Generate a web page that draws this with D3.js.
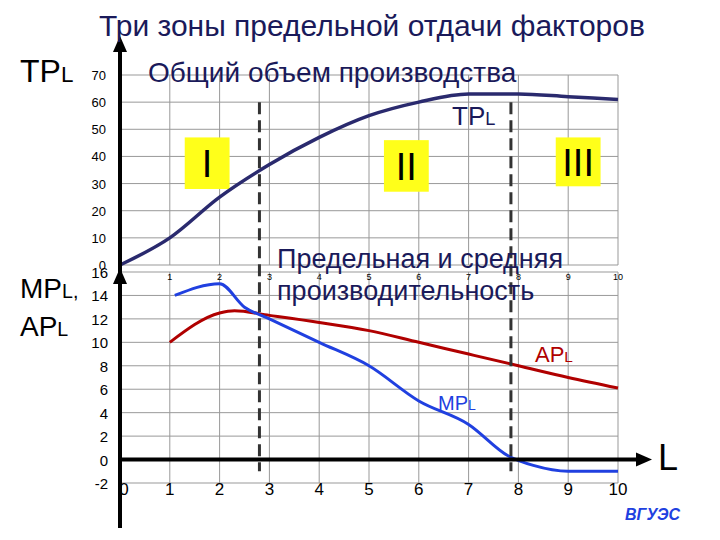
<!DOCTYPE html><html><head><meta charset="utf-8"><script src="https://cdn.jsdelivr.net/npm/d3@7"></script>
<style>body{margin:0;background:#fff}text{font-family:"Liberation Sans",Arial,sans-serif}</style></head><body><svg id="c" width="720" height="540"></svg><script>
const xTicks=[0,1,2,3,4,5,6,7,8,9,10];
const tpY=[0,10,20,30,40,50,60,70];
const mpY=[-2,0,2,4,6,8,10,12,14,16];
const tplX=[0,1,2,3,4,5,6,7,8,9,10], tplV=[0,10,25,37,47,55,60,63,63,62,61];
const aplX=[1,2,2.3,3,4,5,6,7,8,9,10], aplV=[10,12.5,12.7,12.3,11.7,11,10,9,8,7,6.1];
const mplX=[1.1,2,2.5,3,4,5,6,7,7.8,8.3,9,10], mplV=[14,15,13,12,10,8,5,3,0.3,-0.5,-1,-1];
const dashX=[2.8,7.85];
const zones=[{t:"I",x0:1.3,x1:2.2,y0:47,y1:28},{t:"II",x0:5.3,x1:6.2,y0:46,y1:27},{t:"III",x0:8.75,x1:9.65,y0:47,y1:29}];
const svg=d3.select("#c");
const x=d3.scaleLinear([0,10],[120,618]);
const yt=d3.scaleLinear([0,70],[265,75]);
const yb=d3.scaleLinear([-2,16],[483,272]);
const g="#999";
xTicks.slice(1).forEach(t=>{svg.append("line").attr("x1",x(t)).attr("x2",x(t)).attr("y1",yt(70)).attr("y2",yt(0)).attr("stroke",g);
 svg.append("line").attr("x1",x(t)).attr("x2",x(t)).attr("y1",yb(16)).attr("y2",yb(-2)).attr("stroke",g);});
tpY.forEach(t=>svg.append("line").attr("x1",x(0)).attr("x2",x(10)).attr("y1",yt(t)).attr("y2",yt(t)).attr("stroke",g));
mpY.forEach(t=>svg.append("line").attr("x1",x(0)).attr("x2",x(10)).attr("y1",yb(t)).attr("y2",yb(t)).attr("stroke",g));
tpY.forEach(t=>svg.append("text").attr("x",106).attr("y",yt(t)+5).attr("text-anchor","end").attr("font-size",13).text(t));
mpY.forEach(t=>svg.append("text").attr("x",108).attr("y",yb(t)+6).attr("text-anchor","end").attr("font-size",15).text(t));
xTicks.slice(1).forEach(t=>svg.append("text").attr("x",x(t)).attr("y",280).attr("text-anchor","middle").attr("font-size",9).text(t));
xTicks.forEach(t=>svg.append("text").attr("x",x(t)+(t==0?4:0)).attr("y",495).attr("text-anchor","middle").attr("font-size",17).text(t));
zones.forEach(z=>{svg.append("rect").attr("x",x(z.x0)).attr("width",x(z.x1)-x(z.x0)).attr("y",yt(z.y0)).attr("height",yt(z.y1)-yt(z.y0)).attr("fill","#ffff1a");
 svg.append("text").attr("x",(x(z.x0)+x(z.x1))/2).attr("y",(yt(z.y0)+yt(z.y1))/2+14).attr("text-anchor","middle").attr("font-size",38).text(z.t);});
const ln=(xs,vs,ys)=>d3.line().x((d,i)=>x(xs[i])).y(d=>ys(d)).curve(d3.curveMonotoneX)(vs);
svg.append("path").attr("d",ln(tplX,tplV,yt)).attr("fill","none").attr("stroke","#2a2a6e").attr("stroke-width",3.5);
svg.append("path").attr("d",ln(aplX,aplV,yb)).attr("fill","none").attr("stroke","#b00000").attr("stroke-width",3);
svg.append("path").attr("d",ln(mplX,mplV,yb)).attr("fill","none").attr("stroke","#2040e0").attr("stroke-width",3);
dashX.forEach(d=>svg.append("line").attr("x1",x(d)).attr("x2",x(d)).attr("y1",yt(60)).attr("y2",yb(-1)).attr("stroke","#333").attr("stroke-width",3).attr("stroke-dasharray","12,6"));
svg.append("line").attr("x1",120).attr("x2",120).attr("y1",45).attr("y2",528).attr("stroke","#000").attr("stroke-width",4);
svg.append("line").attr("x1",120).attr("x2",645).attr("y1",yb(0)).attr("y2",yb(0)).attr("stroke","#000").attr("stroke-width",4);
svg.append("path").attr("d","M120,36 L113,52 L127,52Z");
svg.append("path").attr("d","M120,268 L113,284 L127,284Z");
svg.append("path").attr("d",`M652,${yb(0)} L636,${yb(0)-7} L636,${yb(0)+7}Z`);
const T=(s,xx,yy,fs,fill,anchor)=>svg.append("text").attr("x",xx).attr("y",yy).attr("font-size",fs).attr("fill",fill||"#000").attr("text-anchor",anchor||"start").text(s);
T("Три зоны предельной отдачи факторов",372,36,30,"#1a1a5a","middle");
T("Общий объем производства",148,82,28,"#1a1a5a");
const sub=(a,b,xx,yy,fs,fill)=>{const t=svg.append("text").attr("x",xx).attr("y",yy).attr("font-size",fs).attr("fill",fill);t.append("tspan").text(a);t.append("tspan").attr("font-size",fs*0.7).text(b);return t;};
sub("TP","L",20,82,32,"#000");
sub("MP","L,",20,298,28,"#000");
sub("AP","L",20,336,28,"#000");
sub("TP","L",452,125,26,"#1a1a5a");
sub("AP","L",535,362,22,"#b00000");
sub("MP","L",438,410,20,"#2040e0");
T("Предельная и средняя",277,268,27,"#1a1a5a");
T("производительность",277,300,27,"#1a1a5a");
T("L",658,470,36,"#000");
T("ВГУЭС",625,520,16,"#2040e0").attr("font-style","italic").attr("font-weight","bold");
</script></body></html>
